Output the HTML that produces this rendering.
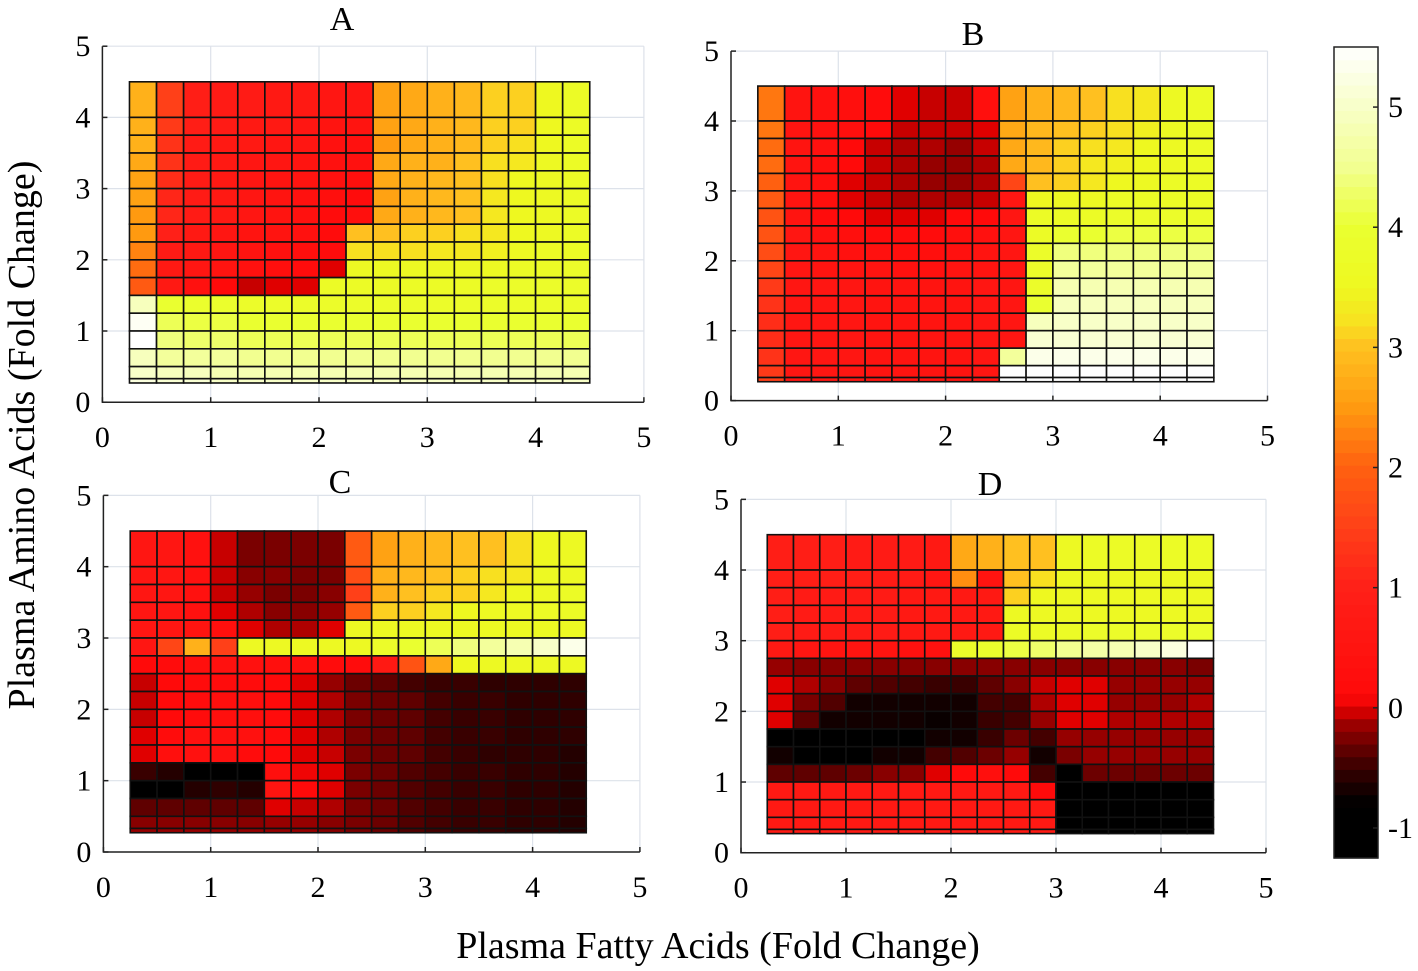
<!DOCTYPE html>
<html><head><meta charset="utf-8"><style>
html,body{margin:0;padding:0;background:#fff;}
svg{display:block;font-family:"Liberation Serif",serif;}
</style></head><body>
<svg id="fig" width="1418" height="971" viewBox="0 0 1418 971" xmlns="http://www.w3.org/2000/svg">
<text x="34" y="435" font-size="38" text-anchor="middle" transform="rotate(-90 34 435)">Plasma Amino Acids (Fold Change)</text>
<text x="718" y="958" font-size="38" text-anchor="middle">Plasma Fatty Acids (Fold Change)</text>
</svg>
<script>
// x edges (fold change) and y edges, shared by all panels
const xEdges = [0.25,0.5,0.75,1,1.25,1.5,1.75,2,2.25,2.5,2.75,3,3.25,3.5,3.75,4,4.25,4.5];
const yEdges = [4.5,4.0,3.75,3.5,3.25,3.0,2.75,2.5,2.25,2.0,1.75,1.5,1.25,1.0,0.75,0.5,0.33,0.27];
const axisTicks = [0,1,2,3,4,5];
const cbTicks = [-1,0,1,2,3,4,5];
const titles = ["A","B","C","D"];
// rows top -> bottom, columns left -> right
const dataA = [
[2.8,1.5,0.9,0.8,0.8,0.7,0.7,0.6,0.6,2.6,2.7,2.8,2.9,3.1,3.1,3.5,3.7],
[2.8,1.4,0.9,0.8,0.7,0.7,0.6,0.5,0.5,2.6,2.7,2.8,2.9,3.1,3.1,3.5,3.7],
[2.8,1.3,0.8,0.7,0.7,0.6,0.6,0.4,0.4,2.5,2.7,2.8,2.9,3.1,3.2,3.5,3.7],
[2.7,1.3,0.8,0.7,0.6,0.6,0.5,0.4,0.4,2.7,2.8,2.8,3.0,3.2,3.3,3.6,3.7],
[2.6,1.2,0.8,0.7,0.6,0.5,0.5,0.4,0.3,2.7,2.8,2.9,3.0,3.2,3.5,3.6,3.7],
[2.6,1.1,0.8,0.7,0.6,0.5,0.4,0.3,0.2,2.6,2.8,2.9,3.0,3.3,3.5,3.6,3.7],
[2.5,1.1,0.8,0.7,0.6,0.5,0.4,0.2,0.3,2.7,2.8,2.9,3.0,3.3,3.5,3.6,3.7],
[2.5,1.0,0.7,0.6,0.5,0.5,0.4,0.2,3.0,3.0,3.1,3.1,3.2,3.3,3.5,3.6,3.7],
[2.3,0.8,0.7,0.6,0.5,0.4,0.3,0.2,3.2,3.2,3.2,3.3,3.3,3.4,3.6,3.7,3.7],
[2.1,0.7,0.6,0.5,0.4,0.3,0.2,0.0,3.6,3.6,3.6,3.6,3.6,3.6,3.7,3.7,3.8],
[1.9,0.7,0.4,0.1,-0.05,0.0,0.0,3.7,3.7,3.7,3.7,3.7,3.7,3.8,3.8,3.8,3.8],
[4.9,4.0,3.9,3.9,3.8,3.8,3.8,3.8,3.8,3.8,3.8,3.8,3.8,3.8,3.8,3.8,3.8],
[5.4,4.2,4.1,4.1,4.0,4.0,4.0,4.0,4.0,4.0,4.0,4.0,4.0,4.0,4.0,4.0,4.0],
[5.5,4.4,4.3,4.3,4.2,4.2,4.2,4.2,4.2,4.2,4.2,4.2,4.2,4.2,4.2,4.2,4.2],
[4.9,4.6,4.6,4.6,4.5,4.5,4.5,4.5,4.5,4.5,4.5,4.5,4.5,4.5,4.5,4.5,4.5],
[5.0,4.9,4.9,4.8,4.8,4.8,4.8,4.8,4.8,4.8,4.8,4.8,4.8,4.8,4.8,4.8,4.8],
[5.2,5.1,5.1,5.0,5.0,5.0,5.0,5.0,5.0,5.0,5.0,5.0,5.0,5.0,5.0,5.0,5.0]];
const dataB = [
[2.2,0.5,0.4,0.3,0.2,0.0,-0.05,-0.05,0.3,2.6,2.8,2.9,3.0,3.2,3.3,3.6,3.7],
[2.2,0.5,0.4,0.3,0.1,-0.05,-0.05,-0.05,0.0,2.7,2.9,3.0,3.1,3.2,3.4,3.6,3.7],
[2.1,0.5,0.4,0.1,-0.05,-0.1,-0.1,-0.15,-0.05,2.7,2.9,3.1,3.2,3.3,3.5,3.6,3.7],
[2.1,0.5,0.3,0.1,-0.05,-0.1,-0.15,-0.15,-0.1,2.7,2.9,3.1,3.3,3.4,3.5,3.6,3.7],
[2.0,0.5,0.3,0.0,-0.05,-0.1,-0.15,-0.15,-0.1,1.6,3.0,3.1,3.3,3.5,3.6,3.7,3.7],
[1.9,0.5,0.3,0.0,-0.05,-0.1,-0.1,-0.1,-0.05,0.6,3.5,3.6,3.6,3.7,3.7,3.7,3.7],
[1.8,0.5,0.2,0.1,0.0,0.0,0.0,0.1,0.1,0.6,3.7,3.7,3.7,3.8,3.8,3.8,3.8],
[1.8,0.6,0.4,0.3,0.2,0.2,0.2,0.3,0.4,0.6,3.7,4.0,4.0,4.1,4.1,4.1,4.1],
[1.7,0.6,0.5,0.4,0.4,0.3,0.3,0.4,0.5,0.6,3.8,4.4,4.4,4.4,4.4,4.4,4.4],
[1.6,0.6,0.5,0.5,0.5,0.4,0.4,0.5,0.5,0.6,3.8,4.6,4.6,4.6,4.6,4.6,4.6],
[1.4,0.6,0.6,0.6,0.5,0.5,0.5,0.5,0.6,0.6,3.8,4.8,4.8,4.8,4.8,4.8,4.8],
[1.3,0.6,0.6,0.6,0.5,0.5,0.5,0.5,0.6,0.6,4.0,4.9,4.9,4.9,4.9,4.9,4.9],
[1.2,0.6,0.6,0.6,0.5,0.5,0.5,0.5,0.6,0.6,4.9,5.0,5.0,5.0,5.0,5.0,5.0],
[1.2,0.6,0.6,0.6,0.5,0.5,0.5,0.5,0.6,0.6,5.1,5.1,5.1,5.1,5.1,5.1,5.1],
[1.3,0.6,0.6,0.6,0.5,0.5,0.5,0.5,0.6,4.6,5.3,5.3,5.3,5.3,5.3,5.3,5.3],
[1.4,0.6,0.6,0.6,0.5,0.5,0.5,0.5,0.6,5.5,5.5,5.5,5.5,5.5,5.5,5.5,5.5],
[1.5,0.6,0.6,0.6,0.5,0.5,0.5,0.5,0.6,5.5,5.5,5.5,5.5,5.5,5.5,5.5,5.5]];
const dataC = [
[0.6,0.6,0.4,-0.05,-0.25,-0.25,-0.25,-0.25,1.9,2.6,2.8,2.9,3.0,3.0,3.2,3.5,3.6],
[0.6,0.6,0.4,-0.05,-0.2,-0.2,-0.25,-0.25,1.7,2.8,2.9,3.0,3.1,3.2,3.3,3.6,3.6],
[0.6,0.6,0.4,-0.05,-0.15,-0.25,-0.25,-0.2,1.5,2.8,3.0,3.1,3.1,3.3,3.5,3.6,3.7],
[0.6,0.6,0.4,0.0,-0.1,-0.2,-0.2,-0.15,1.9,3.1,3.1,3.3,3.5,3.6,3.6,3.7,3.7],
[0.6,0.6,0.5,0.3,0.0,-0.1,-0.1,0.0,3.6,3.6,3.6,3.6,3.6,3.6,3.6,3.6,3.6],
[0.6,1.6,2.8,1.5,3.6,3.6,3.6,3.6,3.6,3.8,4.0,4.2,4.4,4.6,4.8,5.0,5.3],
[0.1,0.2,0.3,0.4,0.4,0.3,0.3,0.2,0.2,0.7,1.8,2.7,3.5,3.6,3.6,3.6,3.6],
[-0.05,0.1,0.2,0.2,0.2,0.1,0.0,-0.15,-0.3,-0.35,-0.45,-0.5,-0.5,-0.55,-0.55,-0.55,-0.55],
[-0.05,0.1,0.2,0.3,0.3,0.1,0.0,-0.1,-0.25,-0.3,-0.35,-0.45,-0.5,-0.5,-0.55,-0.55,-0.55],
[-0.05,0.1,0.2,0.3,0.3,0.2,0.0,-0.1,-0.25,-0.3,-0.35,-0.45,-0.5,-0.5,-0.55,-0.55,-0.55],
[0.0,0.2,0.4,0.4,0.4,0.2,0.0,-0.1,-0.25,-0.3,-0.35,-0.45,-0.5,-0.5,-0.55,-0.55,-0.55],
[0.0,0.3,0.4,0.4,0.2,0.1,0.0,-0.05,-0.25,-0.3,-0.35,-0.45,-0.5,-0.55,-0.55,-0.55,-0.6],
[-0.5,-0.6,-0.8,-0.8,-0.8,0.3,0.05,0.0,-0.25,-0.3,-0.4,-0.45,-0.5,-0.5,-0.55,-0.55,-0.6],
[-0.9,-0.9,-0.6,-0.55,-0.6,0.5,0.1,0.0,-0.25,-0.3,-0.4,-0.45,-0.5,-0.5,-0.55,-0.55,-0.6],
[-0.35,-0.35,-0.35,-0.35,-0.35,0.0,-0.05,-0.1,-0.25,-0.3,-0.4,-0.45,-0.5,-0.5,-0.55,-0.55,-0.6],
[-0.2,-0.2,-0.2,-0.2,-0.2,-0.15,-0.15,-0.2,-0.25,-0.3,-0.4,-0.45,-0.5,-0.5,-0.55,-0.55,-0.6],
[-0.15,-0.15,-0.15,-0.15,-0.15,-0.15,-0.15,-0.2,-0.25,-0.3,-0.4,-0.45,-0.5,-0.5,-0.55,-0.55,-0.6]];
const dataD = [
[0.9,0.9,0.9,0.8,0.8,0.8,0.7,2.7,2.8,3.0,3.0,3.6,3.7,3.7,3.7,3.7,3.7],
[0.9,0.9,0.9,0.9,0.8,0.8,0.6,2.4,0.5,3.0,3.2,3.6,3.6,3.6,3.6,3.6,3.6],
[0.9,0.8,0.8,0.8,0.8,0.7,0.7,0.7,0.7,3.1,3.5,3.6,3.6,3.6,3.6,3.6,3.6],
[0.9,0.8,0.8,0.8,0.8,0.7,0.7,0.7,0.7,3.6,3.6,3.6,3.6,3.6,3.6,3.6,3.6],
[0.9,0.8,0.8,0.8,0.8,0.7,0.7,0.7,0.7,3.7,3.7,3.7,3.8,3.8,3.8,3.8,3.9],
[0.7,0.6,0.5,0.5,0.5,0.4,0.4,3.8,3.9,4.1,4.3,4.5,4.7,4.8,5.0,5.2,5.5],
[-0.15,-0.2,-0.2,-0.2,-0.2,-0.2,-0.2,-0.2,-0.2,-0.2,-0.2,-0.2,-0.2,-0.2,-0.2,-0.2,-0.25],
[0.0,-0.1,-0.2,-0.35,-0.4,-0.45,-0.5,-0.5,-0.35,-0.2,-0.05,0.0,0.0,-0.15,-0.15,-0.15,-0.15],
[0.0,-0.25,-0.4,-0.7,-0.7,-0.7,-0.7,-0.7,-0.45,-0.45,-0.1,0.0,0.0,-0.15,-0.15,-0.15,-0.1],
[0.0,-0.35,-0.7,-0.7,-0.7,-0.7,-0.75,-0.7,-0.5,-0.45,-0.15,0.0,0.0,-0.1,-0.1,-0.1,-0.1],
[-1,-1,-1,-1,-1,-1,-0.7,-0.7,-0.5,-0.3,-0.45,-0.15,-0.15,-0.15,-0.15,-0.15,-0.15],
[-0.7,-1,-1,-1,-0.7,-0.7,-0.45,-0.4,-0.3,-0.15,-0.7,-0.25,-0.15,-0.15,-0.15,-0.15,-0.15],
[-0.35,-0.35,-0.35,-0.3,-0.2,-0.2,0.0,0.1,0.3,0.1,-0.45,-1,-0.3,-0.3,-0.3,-0.3,-0.3],
[0.7,0.7,0.7,0.7,0.7,0.7,0.7,0.7,0.7,0.7,0.1,-1,-1,-1,-1,-1,-1],
[0.7,0.7,0.7,0.7,0.7,0.7,0.7,0.7,0.7,0.7,0.7,-1,-1,-1,-1,-1,-1],
[0.7,0.7,0.7,0.7,0.7,0.7,0.7,0.7,0.7,0.7,0.7,-1,-1,-1,-1,-1,-1],
[0.7,0.7,0.7,0.7,0.7,0.7,0.7,0.7,0.7,0.7,0.7,-1,-1,-1,-1,-1,-1]];

const NS='http://www.w3.org/2000/svg';
const svg=document.getElementById('fig');
const stops=[[-1.25,[0,0,0]],[-0.8,[0,0,0]],[-0.6,[36,0,0]],[-0.45,[68,0,0]],[-0.3,[108,0,0]],[-0.15,[150,0,0]],[0,[224,0,0]],[0.1,[255,10,10]],[1.0,[255,32,24]],[1.5,[255,64,24]],[2,[255,96,16]],[2.5,[255,154,16]],[3,[255,192,32]],[3.2,[248,224,32]],[3.5,[238,248,32]],[4,[234,255,48]],[4.5,[242,255,144]],[5,[248,255,200]],[5.5,[255,255,255]]];
function cmap(v){
  if(v<=stops[0][0]) return 'rgb(0,0,0)';
  for(let i=1;i<stops.length;i++){
    if(v<=stops[i][0]){
      const a=stops[i-1],b=stops[i],t=(v-a[0])/(b[0]-a[0]);
      const c=a[1].map((x,k)=>Math.round(x+(b[1][k]-x)*t));
      return 'rgb('+c.join(',')+')';
    }
  }
  return 'rgb(255,255,255)';
}
function mk(tag,attrs,parent){const e=document.createElementNS(NS,tag);for(const k in attrs)e.setAttribute(k,attrs[k]);(parent||svg).appendChild(e);return e;}

const panels=[
 {x0:102.4,sx:108.3,y0:402.2,sy:71.2,data:dataA,tx:342,ty:30},
 {x0:731,sx:107.3,y0:400.6,sy:69.9,data:dataB,tx:973,ty:45},
 {x0:103.4,sx:107.3,y0:852,sy:71.33,data:dataC,tx:340,ty:493},
 {x0:741,sx:105,y0:852.7,sy:70.67,data:dataD,tx:990,ty:495}
];
panels.forEach((p,pi)=>{
  const g=mk('g',{});
  
  
  const X=v=>p.x0+v*p.sx, Y=v=>p.y0-v*p.sy;
  axisTicks.forEach(t=>{
    const gv=mk('line',{x1:X(t),x2:X(t),y1:Y(0),y2:Y(5),stroke:'#dde2ea','stroke-width':1.2},g);
    
    
    const gh=mk('line',{x1:X(0),x2:X(5),y1:Y(t),y2:Y(t),stroke:'#dde2ea','stroke-width':1.2},g);
    
    
  });
  p.data.forEach((row,r)=>{
    row.forEach((v,c)=>{
      const x1=X(xEdges[c]),x2=X(xEdges[c+1]),y1=Y(yEdges[r]),y2=Y(yEdges[r+1]);
      const rect=mk('rect',{x:x1,y:y1,width:x2-x1,height:y2-y1,fill:cmap(v),stroke:'#111','stroke-width':1.6},g);
      
      
    });
  });
  const ax=mk('path',{d:`M${X(0)},${Y(5)} V${Y(0)} H${X(5)}`,fill:'none',stroke:'#222','stroke-width':1.5},g);
  
  
  axisTicks.forEach(t=>{
    mk('line',{x1:X(t),x2:X(t),y1:Y(0),y2:Y(0)-5,stroke:'#222','stroke-width':1.5},g);
    mk('line',{x1:X(0),x2:X(0)+5,y1:Y(t),y2:Y(t),stroke:'#222','stroke-width':1.5},g);
    const lx=mk('text',{x:X(t),y:Y(0)+45,'font-size':30,'text-anchor':'middle'},g);
    lx.textContent=t;
    
    
    const ly=mk('text',{x:X(0)-12,y:Y(t)+10,'font-size':30,'text-anchor':'end'},g);
    ly.textContent=t;
    
    
  });
  const tt=mk('text',{x:p.tx,y:p.ty,'font-size':34,'text-anchor':'middle'},g);
  tt.textContent=titles[pi];
  
  
});

// colorbar
const cb=mk('g',{});


const cbTop=47,cbBot=858,vTop=5.5,vBot=-1.25,cbX=1334,cbW=44;
const CY=v=>cbTop+(vTop-v)/(vTop-vBot)*(cbBot-cbTop);
for(let i=0;i<64;i++){
  const v1=vBot+(vTop-vBot)*i/64, v2=vBot+(vTop-vBot)*(i+1)/64;
  mk('rect',{x:cbX,y:CY(v2),width:cbW,height:CY(v1)-CY(v2)+0.6,fill:cmap((v1+v2)/2)},cb);
}
mk('rect',{x:cbX,y:cbTop,width:cbW,height:cbBot-cbTop,fill:'none',stroke:'#222','stroke-width':1.5},cb);
cbTicks.forEach(t=>{
  mk('line',{x1:cbX+cbW-5,x2:cbX+cbW,y1:CY(t),y2:CY(t),stroke:'#222','stroke-width':1.5},cb);
  const l=mk('text',{x:cbX+cbW+10,y:CY(t)+10,'font-size':30},cb);
  l.textContent=t;
  
  
});
</script>
</body></html>
